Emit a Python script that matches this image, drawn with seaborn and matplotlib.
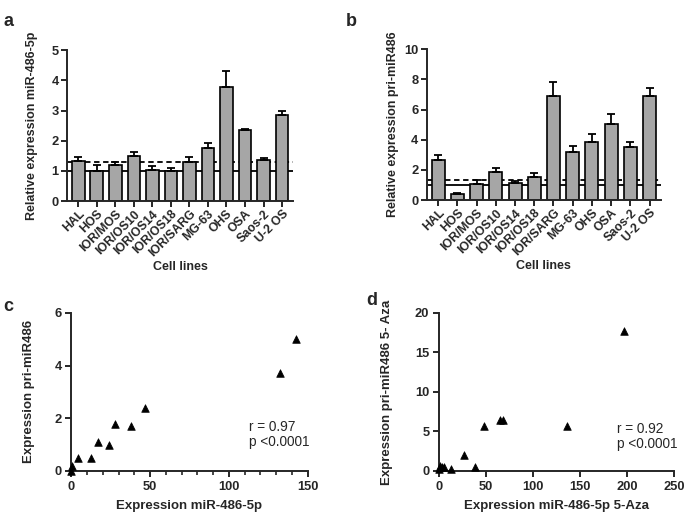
import numpy as np
import pandas as pd
import matplotlib
matplotlib.use("Agg")
import matplotlib.pyplot as plt
import seaborn as sns

# ---- data ----
cell_lines = ["HAL", "HOS", "IOR/MOS", "IOR/OS10", "IOR/OS14", "IOR/OS18",
              "IOR/SARG", "MG-63", "OHS", "OSA", "Saos-2", "U-2 OS"]

mir_5p = [1.32, 1.00, 1.21, 1.51, 1.03, 1.00, 1.30, 1.75, 3.79, 2.35, 1.36, 2.85]
mir_5p_err = [0.15, 0.20, 0.08, 0.12, 0.15, 0.10, 0.17, 0.16, 0.53, 0.03, 0.07, 0.13]

pri_mir = [2.65, 0.38, 1.04, 1.83, 1.13, 1.55, 6.91, 3.16, 3.82, 5.03, 3.51, 6.91]
pri_mir_err = [0.33, 0.08, 0.28, 0.31, 0.15, 0.26, 0.95, 0.42, 0.55, 0.69, 0.35, 0.53]

# scatter c
c_x = [0.0, 0.5, 4.4, 12.5, 16.9, 23.7, 27.5, 37.7, 47.0, 132.2, 142.4]
c_y = [0.0, 0.18, 0.51, 0.51, 1.1, 1.0, 1.8, 1.7, 2.4, 3.7, 5.0]

# scatter d
d_x = [0.0, 1.0, 3.0, 5.3, 13.1, 26.2, 38.5, 48.1, 64.4, 67.9, 135.8, 197.0]
d_y = [0.3, 0.6, 0.5, 0.5, 0.3, 2.0, 0.5, 5.7, 6.4, 6.5, 5.7, 17.75]

sns.set_style("ticks")
plt.rcParams['font.family'] = ['Liberation Sans', 'DejaVu Sans']
plt.rcParams['axes.linewidth'] = 1.4
plt.rcParams['xtick.major.width'] = 1.4
plt.rcParams['ytick.major.width'] = 1.4
plt.rcParams['xtick.minor.width'] = 1.2

fig = plt.figure(figsize=(6.85, 5.13), dpi=100)

ax_a = fig.add_axes([0.098, 0.608, 0.330, 0.294])
ax_b = fig.add_axes([0.623, 0.610, 0.342, 0.294])
ax_c = fig.add_axes([0.104, 0.082, 0.345, 0.308])
ax_d = fig.add_axes([0.641, 0.082, 0.343, 0.308])

bar_color = "#a6a6a6"
tick_fs = 9.3


def bar_panel(ax, vals, errs, ylim, yticks, ylabel, ylpad):
    df = pd.DataFrame({"cell": cell_lines, "val": vals})
    sns.barplot(data=df, x="cell", y="val", color=bar_color, edgecolor="black",
                linewidth=1.2, width=0.68, ax=ax, errorbar=None, saturation=1)
    ax.errorbar(np.arange(len(vals)), vals, yerr=[np.zeros(len(errs)), errs],
                fmt="none", ecolor="black", elinewidth=1.3, capsize=3, capthick=1.3)
    ax.axhline(1.0, color="black", lw=1.3, zorder=0.5)
    ax.axhline(1.3, color="black", lw=1.3, ls=(0, (3, 2)), zorder=0.5)
    ax.set_ylim(*ylim)
    ax.set_yticks(yticks)
    ax.set_xlim(-0.6, 11.6)
    ax.set_xlabel("Cell lines", fontsize=9, fontweight="bold", labelpad=1)
    ax.set_ylabel(ylabel, fontsize=9, fontweight="bold", labelpad=ylpad)
    ax.tick_params(axis="x", length=4, pad=1)
    ax.tick_params(axis="y", length=4, pad=2)
    for lbl in ax.get_xticklabels():
        lbl.set_rotation(45)
        lbl.set_ha("right")
        lbl.set_rotation_mode("anchor")
        lbl.set_fontsize(8.8)
        lbl.set_fontweight("bold")
    for lbl in ax.get_yticklabels():
        lbl.set_fontsize(tick_fs)
        lbl.set_fontweight("bold")
    sns.despine(ax=ax)


bar_panel(ax_a, mir_5p, mir_5p_err, (0, 5), [0, 1, 2, 3, 4, 5],
          "Relative expression miR-486-5p", 10)
bar_panel(ax_b, pri_mir, pri_mir_err, (0, 10), [0, 2, 4, 6, 8, 10],
          "Relative expression pri-miR486", 4)


def scatter_panel(ax, x, y, xlim, ylim, xticks, yticks, xlabel, ylabel, r_txt, txt_pos,
                  ylpad, minor=None):
    sns.scatterplot(x=x, y=y, marker="^", color="black", s=30, edgecolor="black",
                    linewidth=0.5, ax=ax, clip_on=False, zorder=3)
    ax.set_xlim(*xlim)
    ax.set_ylim(*ylim)
    ax.set_xticks(xticks)
    ax.set_yticks(yticks)
    if minor is not None:
        ax.set_xticks(minor, minor=True)
        ax.tick_params(axis="x", which="minor", length=3)
    ax.tick_params(axis="both", which="major", length=4, pad=3)
    ax.set_xlabel(xlabel, fontsize=9.5, fontweight="bold", labelpad=5)
    ax.set_ylabel(ylabel, fontsize=9.5, fontweight="bold", labelpad=ylpad)
    for lbl in ax.get_xticklabels() + ax.get_yticklabels():
        lbl.set_fontsize(tick_fs)
        lbl.set_fontweight("bold")
    ax.text(txt_pos[0], txt_pos[1], r_txt, fontsize=9.8, va="top", ha="left",
            linespacing=1.1)
    sns.despine(ax=ax)


scatter_panel(ax_c, c_x, c_y, (0, 150), (0, 6), [0, 50, 100, 150], [0, 2, 4, 6],
              "Expression miR-486-5p", "Expression pri-miR486",
              "r = 0.97\np <0.0001", (113, 1.93), 14,
              minor=[v for v in range(0, 151, 10) if v % 50])
scatter_panel(ax_d, d_x, d_y, (0, 250), (0, 20), [0, 50, 100, 150, 200, 250],
              [0, 5, 10, 15, 20],
              "Expression miR-486-5p 5-Aza", "Expression pri-miR486 5- Aza",
              "r = 0.92\np <0.0001", (189, 6.2), 16)

# panel letters
for letter, (x, y) in zip("abcd", [(0.005, 0.975), (0.505, 0.975), (0.005, 0.42), (0.535, 0.43)]):
    fig.text(x, y, letter, fontsize=13, fontweight="bold", va="top", ha="left")

fig.savefig("out.png", dpi=100)
